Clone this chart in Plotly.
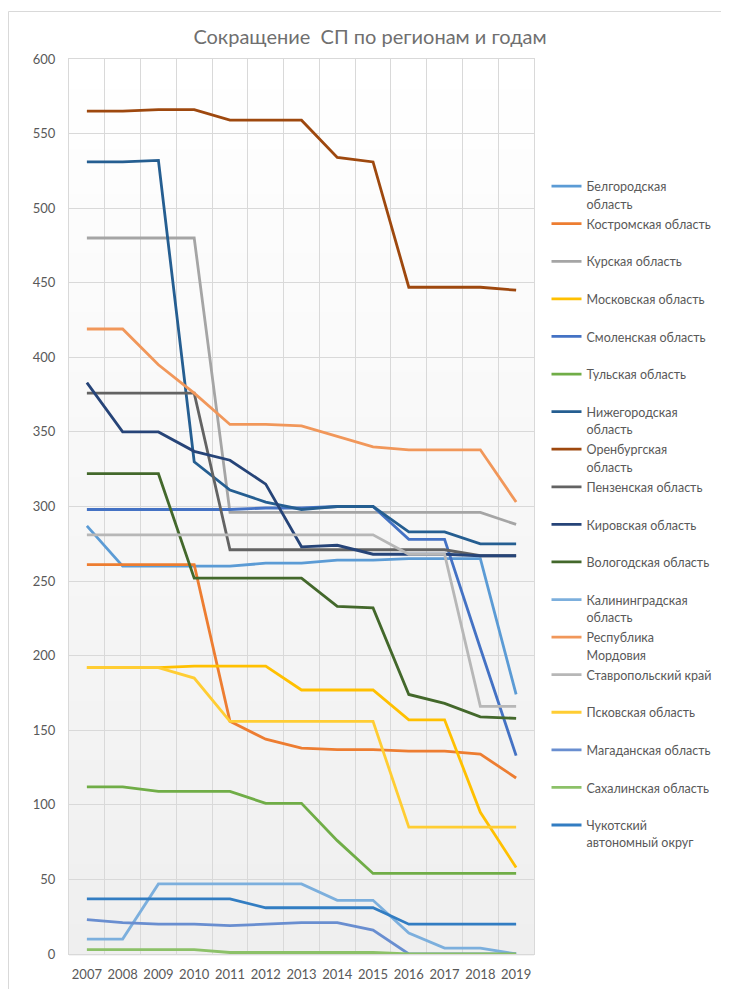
import plotly.graph_objects as go

years = [2007, 2008, 2009, 2010, 2011, 2012, 2013, 2014, 2015, 2016, 2017, 2018, 2019]

names = [
    "Белгородская<br>область",
    "Костромская область",
    "Курская область",
    "Московская область",
    "Смоленская область",
    "Тульская область",
    "Нижегородская<br>область",
    "Оренбургская<br>область",
    "Пензенская область",
    "Кировская область",
    "Вологодская область",
    "Калининградская<br>область",
    "Республика<br>Мордовия",
    "Ставропольский край",
    "Псковская область",
    "Магаданская область",
    "Сахалинская область",
    "Чукотский<br>автономный округ",
]

belgorod     = [287, 260, 260, 260, 260, 262, 262, 264, 264, 265, 265, 265, 174]
kostroma     = [261, 261, 261, 261, 156, 144, 138, 137, 137, 136, 136, 134, 118]
kursk        = [480, 480, 480, 480, 296, 296, 296, 296, 296, 296, 296, 296, 288]
moscow       = [192, 192, 192, 193, 193, 193, 177, 177, 177, 157, 157, 95, 58]
smolensk     = [298, 298, 298, 298, 298, 299, 299, 300, 300, 278, 278, 205, 133]
tula         = [112, 112, 109, 109, 109, 101, 101, 76, 54, 54, 54, 54, 54]
nizhny       = [531, 531, 532, 330, 311, 303, 298, 300, 300, 283, 283, 275, 275]
orenburg     = [565, 565, 566, 566, 559, 559, 559, 534, 531, 447, 447, 447, 445]
penza        = [376, 376, 376, 376, 271, 271, 271, 271, 271, 271, 271, 267, 267]
kirov        = [383, 350, 350, 337, 331, 315, 273, 274, 268, 268, 268, 267, 267]
vologda      = [322, 322, 322, 252, 252, 252, 252, 233, 232, 174, 168, 159, 158]
kaliningrad  = [10, 10, 47, 47, 47, 47, 47, 36, 36, 14, 4, 4, 0]
mordovia     = [419, 419, 395, 376, 355, 355, 354, 347, 340, 338, 338, 338, 303]
stavropol    = [281, 281, 281, 281, 281, 281, 281, 281, 281, 268, 268, 166, 166]
pskov        = [192, 192, 192, 185, 156, 156, 156, 156, 156, 85, 85, 85, 85]
magadan      = [23, 21, 20, 20, 19, 20, 21, 21, 16, 0, 0, 0, 0]
sakhalin     = [3, 3, 3, 3, 1, 1, 1, 1, 1, 0, 0, 0, 0]
chukotka     = [37, 37, 37, 37, 37, 31, 31, 31, 31, 20, 20, 20, 20]

series = [belgorod, kostroma, kursk, moscow, smolensk, tula, nizhny, orenburg,
          penza, kirov, vologda, kaliningrad, mordovia, stavropol, pskov,
          magadan, sakhalin, chukotka]

colors = ["#5b9bd5", "#ed7d31", "#a5a5a5", "#ffc000", "#4472c4", "#70ad47",
          "#255e91", "#9e480e", "#636363", "#264478", "#43682b", "#7cafdd",
          "#f1975a", "#b7b7b7", "#ffcd33", "#698ed0", "#8cc168", "#327dc2"]

FONT = "Lato"
TXT = "#595959"
GRID = "#d9d9d9"

W, H = 721, 981
L, T = 61, 51
PW, PH = 465, 895
R, B = W - L - PW, H - T - PH

fig = go.Figure()
for name, vals, col in zip(names, series, colors):
    label = name if "<br>" in name else name + "<br>\u00a0"
    label = "<br>".join(f"<span style='font-size:12.5px'>{part}</span>"
                        for part in label.split("<br>"))
    fig.add_trace(go.Scatter(x=years, y=vals, name=label, mode="lines",
                             line=dict(color=col, width=2.8)))

# gradient plot background
N = 60
shapes = []
for i in range(N):
    t = (i + 0.5) / N
    c = int(round(255 - (255 - 239) * t))
    shapes.append(dict(type="rect", xref="x domain", yref="y domain",
                       x0=0, x1=1, y0=1 - (i + 1) / N - 0.002, y1=1 - i / N,
                       fillcolor=f"rgb({c},{c},{c})", line=dict(width=0),
                       layer="below"))
# chart outer border
shapes.append(dict(type="rect", xref="paper", yref="paper",
                   x0=(0.5 - L) / PW, x1=(W + 30 - L) / PW,
                   y0=(T + PH - H - 30) / PH, y1=(T + PH - 3.5) / PH,
                   line=dict(color=GRID, width=1), fillcolor="rgba(0,0,0,0)",
                   layer="below"))

fig.update_layout(
    width=W, height=H,
    margin=dict(l=L, r=R, t=T, b=B, autoexpand=False),
    paper_bgcolor="white", plot_bgcolor="white",
    font=dict(family=FONT, color=TXT, size=13),
    title=dict(text="Сокращение  СП по регионам и годам",
               x=362 / W, xanchor="center", y=1 - 29 / H, yanchor="middle",
               font=dict(family=FONT, size=20, color="#6f6f6f")),
    showlegend=True,
    legend=dict(x=(538.5 - L) / PW, xanchor="left", y=1 - (163 - T) / PH,
                yanchor="top", valign="top", bgcolor="rgba(0,0,0,0)",
                font=dict(family=FONT, size=13.3, color=TXT),
                itemwidth=30, tracegroupgap=0),
    shapes=shapes,
)

fig.update_xaxes(
    range=[2006.5, 2019.5], tickmode="array", tickvals=years,
    ticktext=[str(y) for y in years], showgrid=False, zeroline=False,
    ticks="", ticklabelstandoff=8, automargin=False,
    tickfont=dict(family=FONT, size=13, color=TXT),
    showline=True, mirror=True, linecolor=GRID, linewidth=1,
    minor=dict(tickmode="array", tickvals=[2006.5 + i for i in range(14)],
               showgrid=True, gridcolor=GRID, gridwidth=1, ticks=""),
)
fig.update_yaxes(
    range=[0, 600], tick0=0, dtick=50, showgrid=True, gridcolor=GRID,
    gridwidth=1, zeroline=False, ticks="", ticklabelstandoff=10,
    automargin=False,
    tickfont=dict(family=FONT, size=13, color=TXT),
    showline=True, mirror=True, linecolor=GRID, linewidth=1,
)

fig.write_html("out.html")
